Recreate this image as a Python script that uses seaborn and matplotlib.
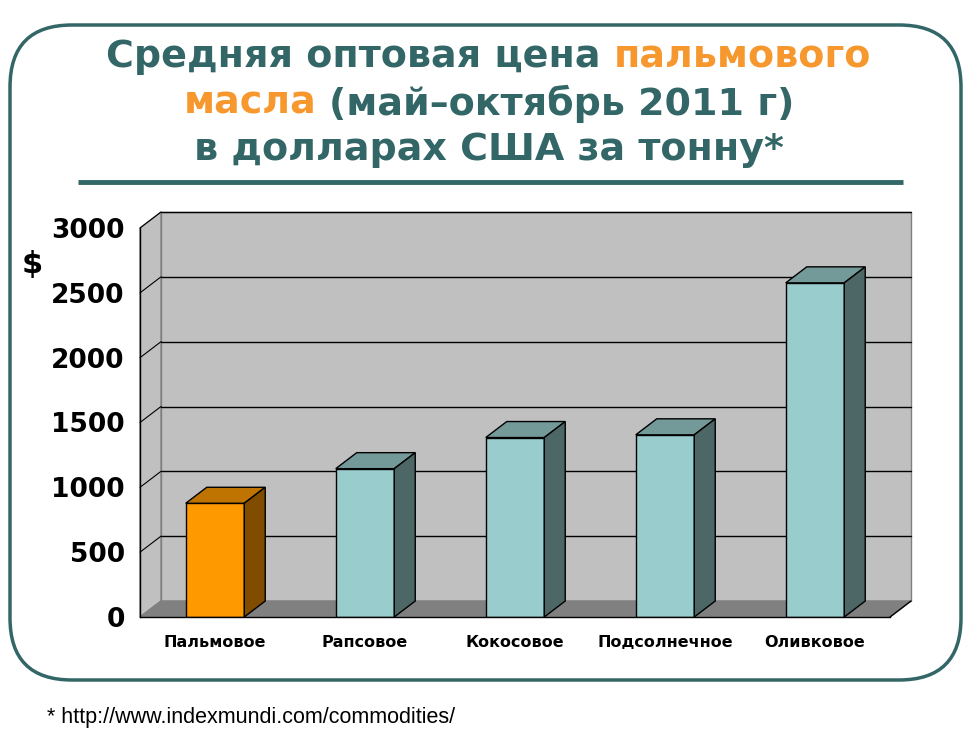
import matplotlib
matplotlib.use('Agg')
import matplotlib.pyplot as plt
import seaborn as sns
from matplotlib.colors import to_rgb
from matplotlib.patches import FancyBboxPatch, Polygon, Rectangle

TEAL = '#336666'
ORANGE = '#F7982F'

categories = ['Пальмовое', 'Рапсовое', 'Кокосовое', 'Подсолнечное', 'Оливковое']
prices = [877, 1144, 1384, 1405, 2577]
bar_colors = ['#FF9900', '#99CCCC', '#99CCCC', '#99CCCC', '#99CCCC']
y_ticks = [0, 500, 1000, 1500, 2000, 2500, 3000]
title_lines = [
	[('Средняя оптовая цена ', TEAL), ('пальмового', ORANGE)],
	[('масла', ORANGE), (' (май–октябрь 2011 г)', TEAL)],
	[('в долларах США за тонну*', TEAL)],
]
y_unit = '$'
footnote = '* http://www.indexmundi.com/commodities/'

W, H = 973, 732
sns.set_style('white')
plt.rcParams['font.family'] = ['DejaVu Sans']
plt.rcParams['text.color'] = 'black'
plt.rcParams['xtick.color'] = 'black'
plt.rcParams['ytick.color'] = 'black'

fig = plt.figure(figsize=(W / 100, H / 100), dpi=100)
renderer = fig.canvas.get_renderer()

# pixel-space overlay for frame, title and notes
bg = fig.add_axes([0, 0, 1, 1], zorder=0)
bg.set_xlim(0, W)
bg.set_ylim(H, 0)
bg.axis('off')
bg.add_patch(FancyBboxPatch((10, 25), 951, 655, boxstyle='round,pad=0,rounding_size=62',
	fc='white', ec=TEAL, lw=2.5))
bg.plot([78, 903], [182, 182], color=TEAL, lw=3.5, solid_capstyle='butt')


def _measure(s, size):
	t = bg.text(0, 0, '|' + s + '|', fontsize=size, fontweight='bold')
	w = t.get_window_extent(renderer).width
	t.remove()
	t = bg.text(0, 0, '||', fontsize=size, fontweight='bold')
	w -= t.get_window_extent(renderer).width
	t.remove()
	return w


def _colored_line(cx, y, parts, size):
	total = sum(_measure(s, size) for s, _ in parts)
	x = cx - total / 2
	for s, color in parts:
		core = s.strip()
		lead = s[:len(s) - len(s.lstrip())]
		trail = s[len(s.rstrip()):]
		x += _measure(lead, size) if lead else 0
		bg.text(x, y, core, fontsize=size, fontweight='bold', color=color, ha='left', va='center')
		x += _measure(core, size) + (_measure(trail, size) if trail else 0)


for line, y in zip(title_lines, [57, 104, 150]):
	_colored_line(489, y, line, 27.4)

bg.text(32, 265, y_unit, fontsize=22, fontweight='bold', ha='center', va='center')
bg.text(47, 717, footnote, fontsize=15.5, family='Liberation Sans', va='center')

# chart area: front plane of the pseudo-3D column chart
ax = fig.add_axes([140 / W, (H - 617) / H, 750 / W, 389 / H], zorder=1)
ax.patch.set_visible(False)
sns.barplot(x=categories, y=prices, hue=categories, palette=bar_colors, width=0.39,
	saturation=1, edgecolor='black', linewidth=1, legend=False, ax=ax)
ax.set_xlim(-0.5, 4.5)
ax.set_ylim(0, 3000)

dx = 21 / 150
dy = 16 * 3000 / 389
x_left, x_right = -0.5, 4.5

ax.add_patch(Rectangle((x_left + dx, dy), x_right - x_left, 3000, fc='#C0C0C0', ec='#808080',
	lw=1, zorder=0.1, clip_on=False))
ax.add_patch(Polygon([(x_left, 0), (x_left + dx, dy), (x_left + dx, 3000 + dy), (x_left, 3000)],
	closed=True, fc='#C0C0C0', ec='#808080', lw=1, zorder=0.1, clip_on=False))
ax.add_patch(Polygon([(x_left, 0), (x_right, 0), (x_right + dx, dy), (x_left + dx, dy)],
	closed=True, fc='#808080', ec='#808080', lw=1, zorder=0.2, clip_on=False))
ax.plot([x_right, x_right + dx], [0, dy], color='black', lw=1, zorder=0.3, clip_on=False)
for v in y_ticks[1:]:
	ax.plot([x_left + dx, x_right + dx], [v + dy, v + dy], color='black', lw=1, zorder=0.3,
		clip_on=False)
	ax.plot([x_left, x_left + dx], [v, v + dy], color='black', lw=0.8, zorder=0.3, clip_on=False)

for p in list(ax.patches):
	if not isinstance(p, Rectangle) or p.get_zorder() < 0.5:
		continue
	x0, w, h = p.get_x(), p.get_width(), p.get_height()
	base = to_rgb(p.get_facecolor())
	top = [c * 0.75 for c in base]
	side = [c * 0.5 for c in base]
	p.set_zorder(2)
	ax.add_patch(Polygon([(x0, h), (x0 + w, h), (x0 + w + dx, h + dy), (x0 + dx, h + dy)],
		closed=True, fc=top, ec='black', lw=1, zorder=2, clip_on=False))
	ax.add_patch(Polygon([(x0 + w, 0), (x0 + w + dx, dy), (x0 + w + dx, h + dy), (x0 + w, h)],
		closed=True, fc=side, ec='black', lw=1, zorder=2, clip_on=False))

for name in ('top', 'right'):
	ax.spines[name].set_visible(False)
for name in ('left', 'bottom'):
	ax.spines[name].set_color('black')
	ax.spines[name].set_linewidth(1)

ax.set_yticks(y_ticks)
ax.set_yticklabels([str(v) for v in y_ticks], fontsize=19, fontweight='bold', color='black')
ax.tick_params(axis='y', direction='out', length=4, width=1, color='black', pad=7)
ax.set_xticks(range(len(categories)))
ax.set_xticklabels(categories, fontsize=11.5, fontweight='bold', color='black')
ax.set_xticks([i - 0.5 for i in range(len(categories) + 1)], minor=True)
ax.tick_params(axis='x', which='major', length=0, pad=13)
ax.tick_params(axis='x', which='minor', direction='out', length=5, width=1, color='black')
ax.set_xlabel('')
ax.set_ylabel('')

fig.savefig('out.png', dpi=100)
